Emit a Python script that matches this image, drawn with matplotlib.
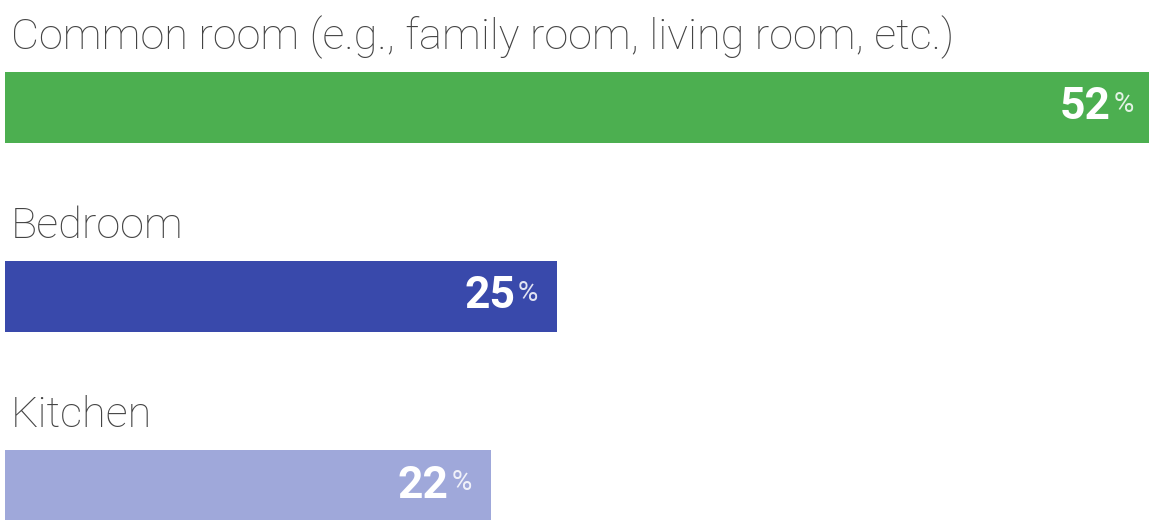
import matplotlib.pyplot as plt

# ---- data ----
categories = ["Common room (e.g., family room, living room, etc.)", "Bedroom", "Kitchen"]
shares = [52, 25, 22]
colors = ["#4caf50", "#3949ab", "#9fa8da"]

plt.rcParams["font.family"] = ["Roboto", "DejaVu Sans"]

fig = plt.figure(figsize=(11.49, 5.2), dpi=100)
ax = fig.add_axes([0, 0, 1, 1])

# layout: one unit per row, 1 px ~ 1/189 unit vertically
row_px = 189.0
bar_h = 71 / row_px
ypos = list(range(len(categories)))

ax.barh(ypos, shares, height=bar_h, color=colors, left=0)

for y, cat, val in zip(ypos, categories, shares):
    # category label above the bar
    ax.text(0.25, y - bar_h / 2 - 23 / row_px, cat, ha="left", va="baseline",
            fontsize=31.2, fontweight="light", color="#444444")
    # value inside the bar end
    ax.annotate(str(val), xy=(val, y), xytext=(-30, 0), textcoords="offset points",
                ha="right", va="center", fontsize=32, fontweight="bold", color="white",
                annotation_clip=False)
    ax.annotate("%", xy=(val, y), xytext=(-13.7, 11.8), textcoords="offset points",
                ha="right", va="top", fontsize=20, fontweight="normal", color="white",
                alpha=0.85, annotation_clip=False)

# x: 0 at px 5, ~22.07 px per percent
px_per = 22.07
ax.set_xlim(-5 / px_per, (1149 - 5) / px_per)
ax.set_ylim((520 - 107.5) / row_px, -107.5 / row_px)
ax.axis("off")

fig.savefig("out.png", dpi=100)
